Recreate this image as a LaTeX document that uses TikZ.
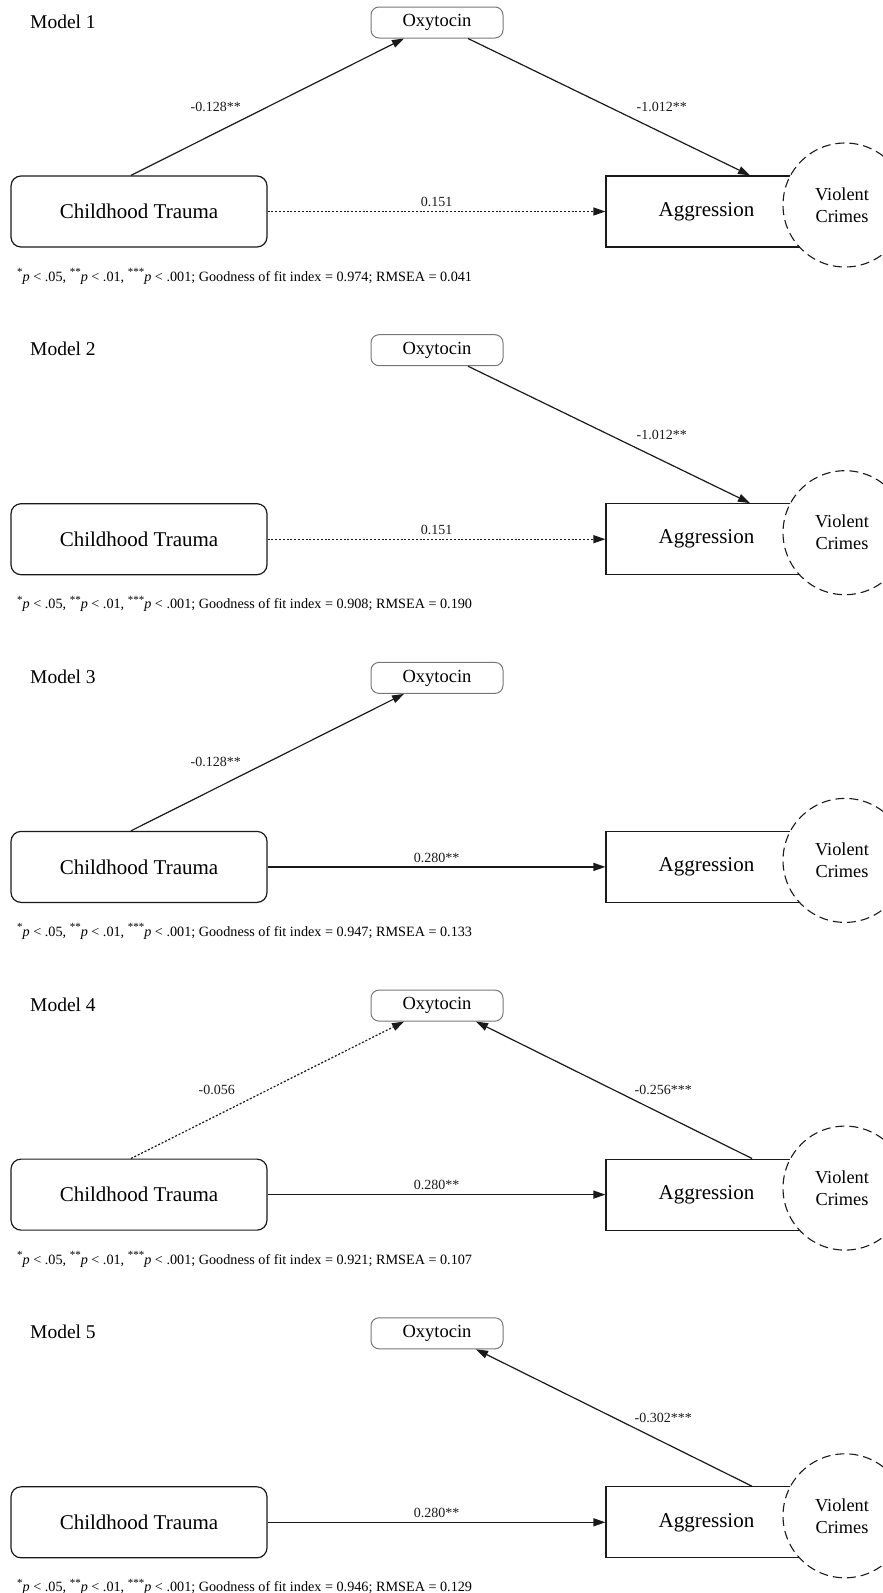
\documentclass[tikz,border=0pt]{standalone}
\usepackage{fontspec}
\setmainfont{Liberation Serif}
\usepackage{tikz}
\usetikzlibrary{arrows.meta,positioning}
\definecolor{ink}{HTML}{1A1A1A}
\definecolor{boxgray}{HTML}{777777}
\newcommand{\sigmark}[1]{\raisebox{5.5pt}{\fontsize{11}{12}\selectfont #1}}
\newcommand{\fitline}[2]{\sigmark{*}\textit{p} < .05, \sigmark{**}\textit{p} < .01, \sigmark{***}\textit{p} < .001; Goodness of fit index = #1; RMSEA = #2}
\tikzset{
    every picture/.style={line join=miter},
    ctbox/.style={draw=ink,line width=1.2pt,rounded corners=10pt,
      minimum width=256pt,minimum height=71pt,inner sep=0pt,
      font=\fontsize{21}{24}\selectfont},
    aggbox/.style={draw=ink,line width=1.2pt,
      minimum width=201pt,minimum height=71pt,inner sep=0pt,
      font=\fontsize{21}{24}\selectfont},
    oxybox/.style={draw=boxgray,line width=1pt,rounded corners=8pt,
      minimum width=132pt,minimum height=31pt,inner sep=0pt,
      font=\fontsize{18.5}{21}\selectfont},
    crimecircle/.style={circle,draw=ink,fill=white,line width=1.1pt,
      dash pattern=on 9pt off 5pt,minimum size=124pt,inner sep=0pt,
      align=center,font=\fontsize{18.3}{22}\selectfont},
    modeltitle/.style={anchor=base west,inner sep=0pt,
      font=\fontsize{19.5}{22}\selectfont},
    fitnote/.style={anchor=base west,inner sep=0pt,
      font=\fontsize{14.2}{16}\selectfont},
    patharrow/.style={-{Triangle[length=12pt,width=8pt]},draw=ink,
      line width=1.2pt},
    weakarrow/.style={patharrow,dash pattern=on 2pt off 1.8pt},
    coef/.style={inner sep=2pt,text=ink,font=\fontsize{14}{16}\selectfont}
}
\begin{document}
\begin{tikzpicture}[x=1pt,y=-1pt]
  \useasboundingbox (0,0) rectangle (883,1593);
  % Model 1
  \begin{scope}
    \node[modeltitle] (title1) at (30,28) {Model 1};
    \node[oxybox] (oxy1) at (437,22.5) {Oxytocin};
    \node[ctbox] (ct1) at (139,211.5) {Childhood Trauma};
    \node[aggbox] (agg1) at (706.5,211.5) {Aggression};
    \node[crimecircle] (vc1) at (845,205) {\hspace*{-6pt}Violent\\\hspace*{-6pt}Crimes};
    \draw[patharrow] ([xshift=-8pt]ct1.north) -- node[coef,pos=.5,left=24pt] {-0.128**} ([xshift=-33pt]oxy1.south);
    \draw[patharrow] ([xshift=31pt]oxy1.south) -- node[coef,pos=.5,right=25pt] {-1.012**} ([xshift=43.5pt]agg1.north);
    \draw[weakarrow] (ct1.east) -- node[coef,above=2pt] {0.151} (agg1.west);
    \node[fitnote] (fit1) at (17,281) {\fitline{0.974}{0.041}};
  \end{scope}
  % Model 2
  \begin{scope}[yshift=-327.7pt]
    \node[modeltitle] (title2) at (30,28) {Model 2};
    \node[oxybox] (oxy2) at (437,22.5) {Oxytocin};
    \node[ctbox] (ct2) at (139,211.5) {Childhood Trauma};
    \node[aggbox] (agg2) at (706.5,211.5) {Aggression};
    \node[crimecircle] (vc2) at (845,205) {\hspace*{-6pt}Violent\\\hspace*{-6pt}Crimes};
    \draw[patharrow] ([xshift=31pt]oxy2.south) -- node[coef,pos=.5,right=25pt] {-1.012**} ([xshift=43.5pt]agg2.north);
    \draw[weakarrow] (ct2.east) -- node[coef,above=2pt] {0.151} (agg2.west);
    \node[fitnote] (fit2) at (17,281) {\fitline{0.908}{0.190}};
  \end{scope}
  % Model 3
  \begin{scope}[yshift=-655.4pt]
    \node[modeltitle] (title3) at (30,28) {Model 3};
    \node[oxybox] (oxy3) at (437,22.5) {Oxytocin};
    \node[ctbox] (ct3) at (139,211.5) {Childhood Trauma};
    \node[aggbox] (agg3) at (706.5,211.5) {Aggression};
    \node[crimecircle] (vc3) at (845,205) {\hspace*{-6pt}Violent\\\hspace*{-6pt}Crimes};
    \draw[patharrow] ([xshift=-8pt]ct3.north) -- node[coef,pos=.5,left=24pt] {-0.128**} ([xshift=-33pt]oxy3.south);
    \draw[patharrow] (ct3.east) -- node[coef,above=2pt] {0.280**} (agg3.west);
    \node[fitnote] (fit3) at (17,281) {\fitline{0.947}{0.133}};
  \end{scope}
  % Model 4
  \begin{scope}[yshift=-983.1pt]
    \node[modeltitle] (title4) at (30,28) {Model 4};
    \node[oxybox] (oxy4) at (437,22.5) {Oxytocin};
    \node[ctbox] (ct4) at (139,211.5) {Childhood Trauma};
    \node[aggbox] (agg4) at (706.5,211.5) {Aggression};
    \node[crimecircle] (vc4) at (845,205) {\hspace*{-6pt}Violent\\\hspace*{-6pt}Crimes};
    \draw[weakarrow] ([xshift=-8pt]ct4.north) -- node[coef,pos=.5,left=30pt] {-0.056} ([xshift=-33pt]oxy4.south);
    \draw[patharrow] ([xshift=45.5pt]agg4.north) -- node[coef,pos=.5,right=18pt] {-0.256***} ([xshift=39pt]oxy4.south);
    \draw[patharrow] (ct4.east) -- node[coef,above=2pt] {0.280**} (agg4.west);
    \node[fitnote] (fit4) at (17,281) {\fitline{0.921}{0.107}};
  \end{scope}
  % Model 5
  \begin{scope}[yshift=-1310.8pt]
    \node[modeltitle] (title5) at (30,28) {Model 5};
    \node[oxybox] (oxy5) at (437,22.5) {Oxytocin};
    \node[ctbox] (ct5) at (139,211.5) {Childhood Trauma};
    \node[aggbox] (agg5) at (706.5,211.5) {Aggression};
    \node[crimecircle] (vc5) at (845,205) {\hspace*{-6pt}Violent\\\hspace*{-6pt}Crimes};
    \draw[patharrow] ([xshift=45.5pt]agg5.north) -- node[coef,pos=.5,right=18pt] {-0.302***} ([xshift=39pt]oxy5.south);
    \draw[patharrow] (ct5.east) -- node[coef,above=2pt] {0.280**} (agg5.west);
    \node[fitnote] (fit5) at (17,281) {\fitline{0.946}{0.129}};
  \end{scope}
\end{tikzpicture}
\end{document}
